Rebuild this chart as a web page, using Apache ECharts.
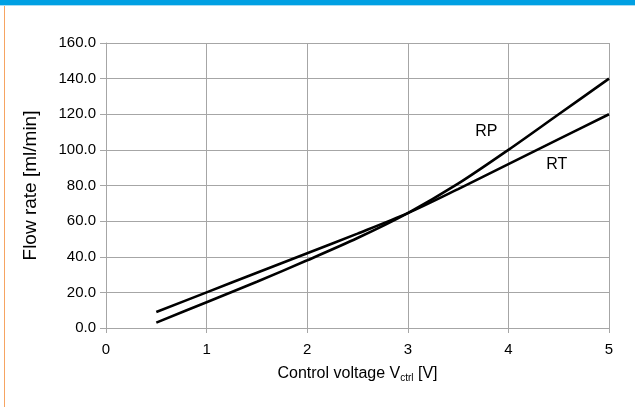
<!DOCTYPE html>
<html>
<head>
<meta charset="utf-8">
<script src="https://cdn.jsdelivr.net/npm/echarts@6/dist/echarts.min.js"></script>
<style>
html,body{margin:0;padding:0;background:#fff;}
#chart{width:635px;height:407px;}
</style>
</head>
<body>
<div id="chart"></div>
<script>
const voltages = [0.5, 1, 1.5, 2, 2.5, 3, 3.5, 4, 4.5, 5];
const rtValues = [9, 20, 31, 42, 53, 64.5, 78, 92, 106, 120];
const rpValues = [3, 14.5, 26, 38, 50.5, 64.5, 81, 100, 120, 140];
const seriesNames = ['RT', 'RP'];
const labelPosRT = [4.48, 91.5];
const labelPosRP = [3.78, 110.5];
const yTicks = {min: 0, max: 160, interval: 20};
const xTicks = {min: 0, max: 5, interval: 1};

const chart = echarts.init(document.getElementById('chart'), null, {renderer: 'canvas'});
const font = 'Liberation Sans, Arial, sans-serif';
function pairs(xs, ys){ return xs.map((x,i)=>[x, ys[i]]); }
function labelPoint(name, pos){
  return {
    symbol: 'circle', symbolSize: 0, silent: true,
    data: [{coord: pos, value: name}],
    label: {show: true, position: 'inside', formatter: name, color: '#000', fontFamily: font, fontSize: 16}
  };
}
const gray = '#a6a6a6';
chart.setOption({
  animation: false,
  backgroundColor: '#fff',
  graphic: [
    {type: 'rect', left: 0, top: 0, shape: {width: 635, height: 5}, style: {fill: '#00a0e3'}},
    {type: 'rect', left: 0, top: 5, shape: {width: 635, height: 1}, style: {fill: '#a8dcf3'}},
    {type: 'rect', left: 4, top: 6, shape: {width: 1, height: 401}, style: {fill: '#f6a462'}}
  ],
  grid: {left: 106, right: 26, top: 43, bottom: 79},
  xAxis: {
    type: 'value', min: xTicks.min, max: xTicks.max, interval: xTicks.interval,
    name: '{n|Control voltage V}{s|ctrl}{n| [V]}',
    nameLocation: 'middle', nameGap: 36,
    nameTextStyle: {rich: {
      n: {fontFamily: font, fontSize: 16, color: '#000'},
      s: {fontFamily: font, fontSize: 10, color: '#000', verticalAlign: 'bottom', padding: [9,0,0,0]}
    }},
    axisLine: {show: true, lineStyle: {color: gray, width: 1}},
    axisTick: {show: true, length: 5, lineStyle: {color: gray}},
    axisLabel: {fontFamily: font, fontSize: 15, color: '#000', margin: 14},
    splitLine: {show: true, lineStyle: {color: gray, width: 1}}
  },
  yAxis: {
    type: 'value', min: yTicks.min, max: yTicks.max, interval: yTicks.interval,
    name: 'Flow rate [ml/min]', nameLocation: 'middle', nameGap: 66,
    nameTextStyle: {fontFamily: font, fontSize: 19, color: '#000'},
    axisLine: {show: true, lineStyle: {color: gray, width: 1}},
    axisTick: {show: true, length: 6, lineStyle: {color: gray}},
    axisLabel: {fontFamily: font, fontSize: 15, color: '#000', margin: 10,
      formatter: v => v.toFixed(1)},
    splitLine: {show: true, lineStyle: {color: gray, width: 1}}
  },
  series: [
    {name: seriesNames[0], type: 'line', data: pairs(voltages, rtValues), smooth: 0.3,
     showSymbol: false, lineStyle: {color: '#000', width: 2.6},
     markPoint: labelPoint('RT', labelPosRT)},
    {name: seriesNames[1], type: 'line', data: pairs(voltages, rpValues), smooth: 0.3,
     showSymbol: false, lineStyle: {color: '#000', width: 2.6},
     markPoint: labelPoint('RP', labelPosRP)}
  ]
});
</script>
</body>
</html>
